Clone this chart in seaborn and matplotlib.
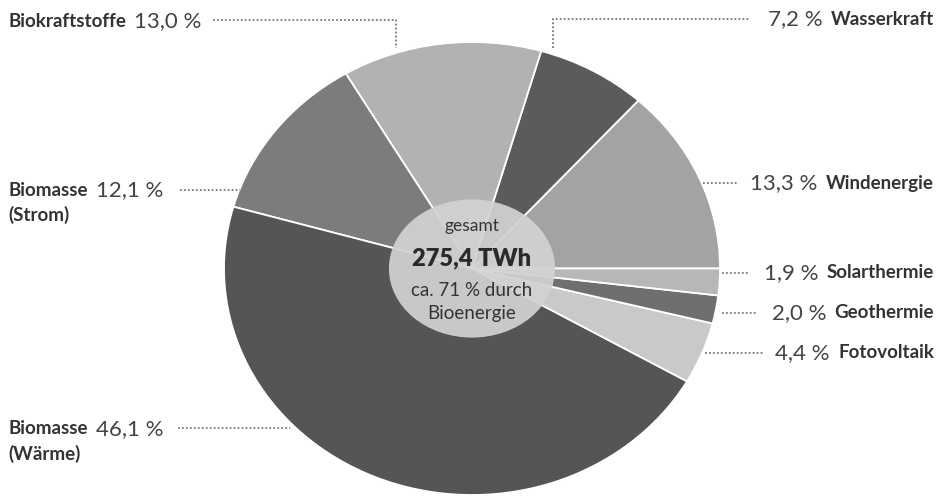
import matplotlib
matplotlib.use("Agg")
import matplotlib.pyplot as plt
import seaborn as sns
from matplotlib.patches import Ellipse

sns.set_style("white")
plt.rcParams['font.family'] = ['Lato', 'DejaVu Sans']

# data (counter-clockwise from 3 o'clock)
labels = ["Windenergie", "Wasserkraft", "Biokraftstoffe", "Biomasse (Strom)",
          "Biomasse (Wärme)", "Fotovoltaik", "Geothermie", "Solarthermie"]
shares = [13.3, 7.2, 13.0, 12.1, 46.1, 4.4, 2.0, 1.9]
colors = ["#a3a3a5", "#5b5b5d", "#b2b2b3", "#7c7c7e",
          "#555557", "#c9c9c9", "#6f6f71", "#b7b7b8"]
pct_text = ["13,3 %", "7,2 %", "13,0 %", "12,1 %", "46,1 %", "4,4 %", "2,0 %", "1,9 %"]
total_text = "275,4 TWh"

W, H = 939, 499
fig = plt.figure(figsize=(W / 100, H / 100), dpi=100)
fig.patch.set_facecolor("white")

# pie axes (bounding box of the slightly elliptic pie)
pl, pr, pt, pb = 224, 720, 42, 495
axp = fig.add_axes([pl / W, 1 - pb / H, (pr - pl) / W, (pb - pt) / H])
axp.pie(shares, colors=colors, startangle=0, counterclock=True,
        wedgeprops=dict(edgecolor="white", linewidth=1.3))
axp.set_aspect("auto")
axp.set_xlim(-1, 1)
axp.set_ylim(-1, 1)
axp.axis("off")
axp.add_patch(Ellipse((0, 0), 0.67, 0.61, facecolor="#d2d2d2", alpha=0.93,
                      edgecolor="none", zorder=5))

# overlay axes in pixel coords
ax = fig.add_axes([0, 0, 1, 1])
ax.set_xlim(0, W)
ax.set_ylim(H, 0)
ax.axis("off")
ax.patch.set_alpha(0)

cx = 472
ax.text(cx, 226, "gesamt", ha="center", va="center", fontsize=12.5, color="#333333", zorder=6)
ax.text(cx, 258, total_text, ha="center", va="center", fontsize=17, fontweight="heavy",
        color="#2a2a2a", zorder=6)
ax.text(cx, 290, "ca. 71 % durch", ha="center", va="center", fontsize=13.5, color="#333333", zorder=6)
ax.text(cx, 313, "Bioenergie", ha="center", va="center", fontsize=13.5, color="#333333", zorder=6)

lab_kw = dict(fontsize=13.5, fontweight="bold", color="#333333", va="center")
pct_kw = dict(fontsize=16, color="#444444", va="center")
dot_kw = dict(color="#777777", linestyle=(0, (1, 1.2)), linewidth=1.3)


def left_label(y, name, pct, line, sub=None):
    t = ax.text(8, y, name, ha="left", **lab_kw)
    ax.annotate(pct, xy=(1, 0.5), xycoords=t, xytext=(6, 0), textcoords="offset points",
                ha="left", **pct_kw)
    if sub:
        ax.text(8, y + 25, sub, ha="left", **lab_kw)
    ax.plot(line[0], line[1], **dot_kw)


def right_label(y, pct, name, line):
    t = ax.text(934, y, name, ha="right", **lab_kw)
    ax.annotate(pct, xy=(0, 0.5), xycoords=t, xytext=(-6, 0), textcoords="offset points",
                ha="right", **pct_kw)
    ax.plot(line[0], line[1], **dot_kw)


left_label(21, "Biokraftstoffe", pct_text[2], ([213, 396, 396], [20, 20, 48]))
left_label(190, "Biomasse", pct_text[3], ([180, 240], [190, 190]), sub="(Strom)")
left_label(429, "Biomasse", pct_text[4], ([178, 290], [428, 428]), sub="(Wärme)")

right_label(19, pct_text[1], "Wasserkraft", ([553, 553, 750], [48, 19, 19]))
right_label(183, pct_text[0], "Windenergie", ([703, 738], [183, 183]))
right_label(273, pct_text[7], "Solarthermie", ([722, 748], [273, 273]))
right_label(313, pct_text[6], "Geothermie", ([722, 756], [313, 313]))
right_label(353, pct_text[5], "Fotovoltaik", ([705, 763], [353, 353]))

fig.savefig("out.png", dpi=100, facecolor="white")
